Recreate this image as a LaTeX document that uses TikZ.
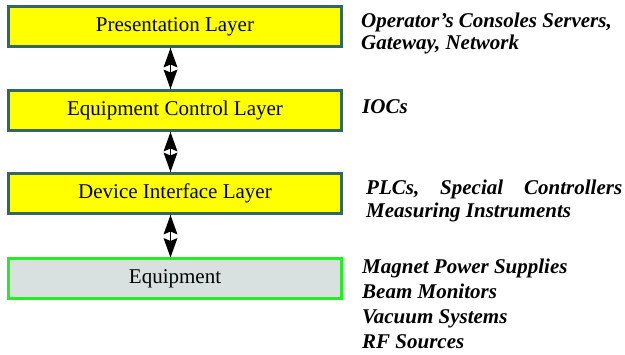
\documentclass[tikz,border=0pt]{standalone}
\usepackage{fontspec}
\setmainfont{Liberation Serif}
\newfontfamily\boxfont{Liberation Serif}
\definecolor{layerborder}{HTML}{336666}
\definecolor{layerfill}{HTML}{FFFF00}
\definecolor{eqborder}{HTML}{22EE22}
\definecolor{eqfill}{HTML}{D8E0E0}
\tikzset{
  layer/.style={draw=layerborder, fill=layerfill, line width=3pt, minimum width=333pt, minimum height=40pt, inner sep=0pt, text height=14pt, text depth=4pt, font=\boxfont\fontsize{21}{24}\selectfont},
  eqbox/.style={layer, draw=eqborder, fill=eqfill},
  note/.style={anchor=base west, inner sep=0pt, font=\boxfont\fontsize{21}{24}\selectfont\bfseries\itshape},
  shaft/.style={line width=1.8pt},
  tip/.style={fill=black}
}
\begin{document}
\begin{tikzpicture}[x=1pt,y=-1pt]
\useasboundingbox (0,0) rectangle (625,355);
\node[layer] (pres) at (175,26.5) {Presentation Layer};
\node[layer] (ctrl) at (175,110.5) {Equipment Control Layer};
\node[layer] (dev) at (175,193.5) {Device Interface Layer};
\node[eqbox] (eq) at (175,279) {Equipment};
% connectors
\draw[shaft] ([xshift=-4.5pt]pres.south) -- ([xshift=-4.5pt]ctrl.north);
\fill[tip] ([xshift=-4.5pt]pres.south) -- ++(-7,19.5) -- ++(7,-3) -- ++(7,3) -- cycle;
\fill[tip] ([xshift=-4.5pt]ctrl.north) -- ++(-7,-19.5) -- ++(7,3) -- ++(7,-3) -- cycle;
\draw[shaft] ([xshift=-4.5pt]ctrl.south) -- ([xshift=-4.5pt]dev.north);
\fill[tip] ([xshift=-4.5pt]ctrl.south) -- ++(-7,19.5) -- ++(7,-3) -- ++(7,3) -- cycle;
\fill[tip] ([xshift=-4.5pt]dev.north) -- ++(-7,-19.5) -- ++(7,3) -- ++(7,-3) -- cycle;
\draw[shaft] ([xshift=-4.5pt]dev.south) -- ([xshift=-4.5pt]eq.north);
\fill[tip] ([xshift=-4.5pt]dev.south) -- ++(-7,19.5) -- ++(7,-3) -- ++(7,3) -- cycle;
\fill[tip] ([xshift=-4.5pt]eq.north) -- ++(-7,-19.5) -- ++(7,3) -- ++(7,-3) -- cycle;
\node[note] (n1) at (361,28) {Operator’s Consoles Servers,};
\node[note] (n2) at (361,50) {Gateway, Network};
\node[note] (n3) at (362,114) {IOCs};
\node[note] (n4) at (366,194.5) {\makebox[256pt][s]{PLCs,\hfill Special\hfill Controllers}};
\node[note] (n5) at (366,217.5) {Measuring Instruments};
\node[note] (n6) at (362,273.5) {Magnet Power Supplies};
\node[note] (n7) at (362,299) {Beam Monitors};
\node[note] (n8) at (362,323.5) {Vacuum Systems};
\node[note] (n9) at (362,349) {RF Sources};
\end{tikzpicture}
\end{document}
